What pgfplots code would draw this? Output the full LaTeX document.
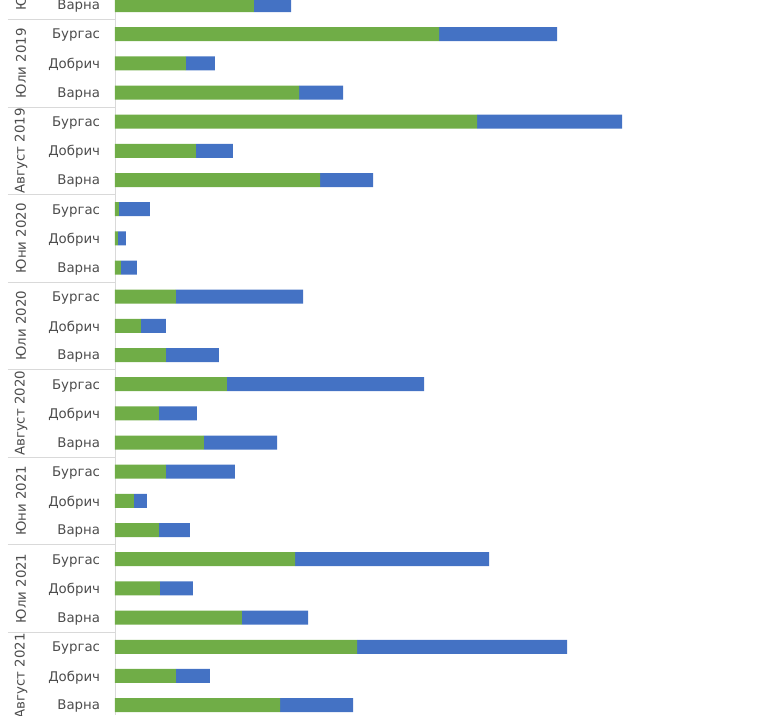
\documentclass[border=0pt]{standalone}
\usepackage{fontspec}
\setmainfont{DejaVu Sans}
\usepackage{pgfplots}
\usepackage{pgfplotstable}
\pgfplotsset{compat=1.18}
\definecolor{grn}{HTML}{70AD47}
\definecolor{blu}{HTML}{4472C4}
\definecolor{txt}{HTML}{4D4D4D}
\definecolor{sep}{HTML}{D9D9D9}

% idx: bar position from the top, g = green part, b = blue part
\pgfplotstableread{
idx g   b
0   139 37
1   324 118
2   71  29
3   184 44
4   362 145
5   81  37
6   205 53
7   4   31
8   3   8
9   6   16
10  61  127
11  26  25
12  51  53
13  112 197
14  44  38
15  89  73
16  51  69
17  19  13
18  44  31
19  180 194
20  45  33
21  127 66
22  242 210
23  61  34
24  165 73
}\data

\begin{document}
\begin{tikzpicture}
\useasboundingbox (0,0) rectangle (576pt,536.25pt);
\clip (0,0) rectangle (576pt,536.25pt);
\begin{axis}[
  at={(86.25pt,0pt)}, anchor=south west,
  scale only axis, width=489.75pt, height=536.25pt,
  xmin=0, xmax=653,
  ymin=-0.1714, ymax=24.34, y dir=reverse,
  xbar stacked, bar width=10.5pt,
  axis x line=none, axis y line*=left,
  y axis line style={draw=sep, thin},
  major tick length=0pt,
  ytick={0,...,24},
  yticklabels={Варна,
    Бургас,Добрич,Варна, Бургас,Добрич,Варна, Бургас,Добрич,Варна,
    Бургас,Добрич,Варна, Бургас,Добрич,Варна, Бургас,Добрич,Варна,
    Бургас,Добрич,Варна, Бургас,Добрич,Варна},
  yticklabel style={font=\fontsize{10}{12}\selectfont, text=txt,
    inner sep=0pt, xshift=-11pt, yshift=-1pt},
  clip=false,
]
\addplot[fill=grn, draw=none] table[x=g, y=idx] {\data};
\addplot[fill=blu, draw=none] table[x=b, y=idx] {\data};
\pgfplotsinvokeforeach{0.5,3.5,6.5,9.5,12.5,15.5,18.5,21.5}{
  \draw[sep] (axis cs:-107,#1) -- (axis cs:0,#1);
}
\tikzset{grp/.style={rotate=90, text=txt, font=\fontsize{10}{12}\selectfont}}
\node[grp] at (axis cs:-94,-1) {Юни 2019};
\node[grp] at (axis cs:-94,2) {Юли 2019};
\node[grp] at (axis cs:-94,5) {Август 2019};
\node[grp] at (axis cs:-94,8) {Юни 2020};
\node[grp] at (axis cs:-94,11) {Юли 2020};
\node[grp] at (axis cs:-94,14) {Август 2020};
\node[grp] at (axis cs:-94,17) {Юни 2021};
\node[grp] at (axis cs:-94,20) {Юли 2021};
\node[grp] at (axis cs:-94,23) {Август 2021};
\end{axis}
\end{tikzpicture}
\end{document}
